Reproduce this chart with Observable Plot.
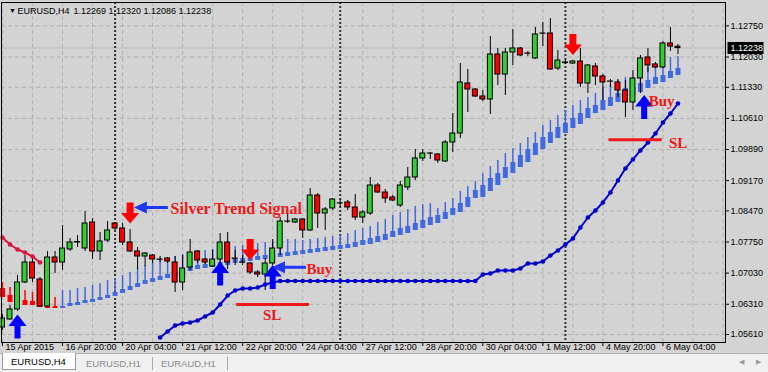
<!DOCTYPE html>
<html><head><meta charset="utf-8">
<script src="https://cdn.jsdelivr.net/npm/d3@7"></script>
<script src="https://cdn.jsdelivr.net/npm/@observablehq/plot@0.6"></script>
<style>
body{margin:0;background:#f0f0f0;width:768px;height:372px;overflow:hidden;font-family:"Liberation Sans",Arial,sans-serif}
#chart svg{display:block}
#tabs{position:relative;height:19px;background:#f0f0f0;border-top:1px solid #b4b4b4;font-size:9.5px}
#tabs .active{position:absolute;left:2px;top:-1px;width:72px;height:16px;background:#fff;border:1px solid #9a9a9a;border-top:none;color:#000}
#tabs .active span{position:absolute;left:8px;top:3px}
#tabs .t{position:absolute;top:4px;color:#8a8a8a}
#tabs .sep{position:absolute;top:3px;width:1px;height:13px;background:#a8a8a8}
#tabs .arr{position:absolute;top:4px;color:#9a9a9a;font-size:7px}
</style></head>
<body>
<div id="chart"></div>
<div id="tabs">
  <div class="active"><span>EURUSD,H4</span></div>
  <span class="t" style="left:86px">EURUSD,H1</span>
  <span class="sep" style="left:152px"></span>
  <span class="t" style="left:161px">EURAUD,H1</span>
  <span class="sep" style="left:227px"></span>
  <span class="arr" style="left:739px">◀</span>
  <span class="arr" style="left:756px">▶</span>
</div>
<script>
// ---- data (EURUSD H4, one value per bar, bar 0 = 15 Apr 2015 12:00) ----
const symbolName = "EURUSD,H4";
const barOpen = [1.05772,1.05957,1.06189,1.06813,1.07276,1.06883,1.06258,1.07392,1.07276,1.07577,
1.07739,1.076,1.08202,1.07531,1.07785,1.08179,1.08063,1.07739,1.07531,1.07415,
1.07438,1.07345,1.07369,1.07276,1.06813,1.0716,1.07531,1.07345,1.07184,1.07345,
1.07739,1.07369,1.07276,1.07253,1.07045,1.06998,1.07253,1.076,1.08225,1.08202,
1.08271,1.08017,1.08826,1.0841,1.08526,1.08641,1.08665,1.08549,1.08317,1.0841,
1.09058,1.08896,1.0878,1.08595,1.09011,1.09243,1.09683,1.09798,1.09775,1.09613,
1.10053,1.10261,1.11418,1.11279,1.11117,1.11048,1.12089,1.11626,1.12135,1.12228,
1.12112,1.11997,1.12575,1.12575,1.11765,1.11904,1.11881,1.11927,1.11418,1.11812,
1.1158,1.11464,1.11441,1.11256,1.10978,1.11534,1.1202,1.11858,1.11788,1.12344,1.12269];
const barHigh = [1.06073,1.06281,1.06975,1.07438,1.07369,1.06929,1.07531,1.07531,1.08132,1.07831,
1.07901,1.08456,1.08294,1.0797,1.08225,1.08202,1.08179,1.0804,1.07623,1.07507,
1.07461,1.07415,1.07392,1.07415,1.07438,1.07808,1.07554,1.07369,1.07554,1.07947,
1.0797,1.07554,1.07438,1.07276,1.07091,1.07369,1.07808,1.08317,1.0841,1.08294,
1.08294,1.08988,1.08873,1.08549,1.08757,1.08734,1.08711,1.0885,1.08479,1.09243,
1.09104,1.08965,1.08826,1.0915,1.09474,1.09891,1.09891,1.09821,1.09798,1.101,
1.10724,1.11881,1.11742,1.11302,1.11256,1.12506,1.12228,1.12228,1.12668,1.12251,
1.12159,1.12714,1.1283,1.12922,1.12182,1.1195,1.1195,1.12228,1.11858,1.11881,
1.11626,1.11511,1.11511,1.11488,1.11719,1.12066,1.12228,1.11904,1.1239,1.12714,1.1232];
const barLow = [1.05703,1.05934,1.06142,1.0679,1.06813,1.06235,1.06235,1.07022,1.07091,1.07531,
1.07623,1.07531,1.07345,1.07322,1.07739,1.08017,1.07669,1.07507,1.07114,1.07184,
1.07253,1.07276,1.07253,1.06582,1.06628,1.07091,1.07253,1.0723,1.0716,1.07253,
1.07114,1.07207,1.07207,1.06998,1.06929,1.06628,1.07207,1.07438,1.08179,1.08179,
1.07831,1.07993,1.08063,1.08017,1.08479,1.08549,1.08479,1.08248,1.08179,1.08364,
1.08873,1.08641,1.08688,1.08549,1.08942,1.09174,1.09613,1.0966,1.0957,1.0959,
1.09821,1.10145,1.10747,1.11094,1.11001,1.10701,1.11372,1.1114,1.11835,1.12043,
1.12043,1.11974,1.12274,1.11719,1.11719,1.11858,1.11858,1.11326,1.11187,1.11372,
1.11025,1.11326,1.11094,1.10631,1.10793,1.11187,1.11673,1.11765,1.11765,1.12159,1.12086];
const barClose = [1.0598,1.06189,1.06813,1.07276,1.06906,1.06258,1.07392,1.07276,1.076,1.07739,
1.0775,1.08179,1.07531,1.07762,1.08017,1.08063,1.07739,1.07531,1.07415,1.07484,
1.07345,1.0734,1.07299,1.06813,1.07137,1.07507,1.07322,1.07276,1.07345,1.07739,
1.07276,1.07362,1.0727,1.07045,1.06998,1.07253,1.076,1.08225,1.0822,1.08271,
1.08017,1.08826,1.0841,1.08503,1.08734,1.08645,1.08549,1.08317,1.08433,1.09058,
1.08896,1.08757,1.08711,1.09058,1.09243,1.09683,1.09798,1.09795,1.09636,1.10053,
1.10261,1.11441,1.11279,1.11117,1.11048,1.12089,1.11626,1.12135,1.12228,1.12066,
1.12108,1.12552,1.1257,1.11742,1.1195,1.1189,1.11927,1.11418,1.11835,1.1158,
1.11441,1.1146,1.11256,1.10978,1.11534,1.11997,1.11835,1.11788,1.12344,1.12274,1.12238];

// Silver Trend histogram: sell phase (red) bars 0-7, buy phase (blue) bars 8-90
const redHistFirstBar = 0;
const redHistWick = [1.06813,1.06698,1.06651,1.06628,1.06582,1.06536,1.06489,1.06466];
const redHistTop = [1.06674,1.06512,1.06443,1.06397,1.06374,1.06327,1.06281,1.06258];
const redHistBottom = [1.06466,1.0635,1.06304,1.06281,1.06281,1.06235,1.06212,1.06212];
const blueHistFirstBar = 8;
const blueHistWick = [1.06628,1.06628,1.06674,1.06698,1.06744,1.0679,1.0686,1.06906,1.06975,1.07045,
1.07137,1.07207,1.07276,1.07322,1.07369,1.07415,1.07461,1.07507,1.07531,1.07554,
1.07577,1.076,1.07623,1.07646,1.07669,1.07693,1.07716,1.07739,1.07762,1.07785,
1.07808,1.07808,1.07785,1.07808,1.07831,1.07855,1.07878,1.07901,1.07947,1.08017,
1.08063,1.08109,1.08202,1.08271,1.08364,1.08433,1.08503,1.08572,1.08618,1.08641,
1.08526,1.08665,1.08757,1.08919,1.09035,1.0915,1.09336,1.09498,1.09636,1.09798,
1.09914,1.1003,1.10169,1.10284,1.10446,1.10562,1.10678,1.10793,1.10909,1.11025,
1.11094,1.11187,1.11326,1.11372,1.11488,1.11557,1.11557,1.11603,1.11788,1.11812,
1.1195,1.1202,1.12043];
const blueHistTop = [1.06258,1.06327,1.0635,1.06397,1.0642,1.06466,1.06512,1.06582,1.06651,1.06721,
1.0679,1.0686,1.06906,1.06952,1.06998,1.07045,1.07091,1.07184,1.07207,1.0723,
1.07253,1.07276,1.07299,1.07345,1.07369,1.07392,1.07415,1.07438,1.07461,1.07484,
1.07507,1.07531,1.07554,1.07577,1.076,1.07623,1.07646,1.07669,1.07693,1.07739,
1.07785,1.07831,1.07878,1.07924,1.07993,1.08063,1.08109,1.08179,1.08248,1.08317,
1.08364,1.08433,1.08526,1.08641,1.0878,1.08942,1.09058,1.0922,1.09336,1.09474,
1.0959,1.09752,1.09891,1.1003,1.10169,1.10284,1.104,1.10493,1.10608,1.10724,
1.1084,1.10909,1.11025,1.11094,1.11187,1.11302,1.11326,1.11418,1.11488,1.11557,
1.11603,1.11696,1.11765];
const blueHistBottom = [1.06212,1.06258,1.06281,1.06327,1.0635,1.06397,1.06443,1.06489,1.06559,1.06628,
1.06698,1.06767,1.06813,1.0686,1.06906,1.06952,1.06998,1.07068,1.07114,1.07137,
1.0716,1.07184,1.07207,1.07253,1.07276,1.07299,1.07322,1.07345,1.07369,1.07392,
1.07415,1.07438,1.07461,1.07484,1.07507,1.07531,1.07554,1.07577,1.076,1.07623,
1.07669,1.07693,1.07739,1.07785,1.07855,1.07901,1.07947,1.08017,1.08063,1.08132,
1.08179,1.08271,1.08364,1.08433,1.08549,1.08757,1.0878,1.08919,1.09058,1.0922,
1.09336,1.09474,1.0959,1.09752,1.09891,1.1003,1.10145,1.10261,1.10377,1.10469,
1.10608,1.10724,1.10793,1.10886,1.10978,1.11094,1.1114,1.1121,1.11302,1.11395,
1.11441,1.11534,1.11603];

// trailing stop lines
const sellStopFirstBar = 0;
const sellStop = [1.07855,1.07693,1.07577,1.07507,1.07415,1.07276];
const buyStopFirstBar = 21;
const buyStop = [1.05541,1.05679,1.05818,1.05865,1.05888,1.05934,1.06027,1.06119,1.06304,1.06512,
1.06628,1.06674,1.06674,1.06698,1.06767,1.06813,
1.06848,1.06848,1.06848,1.06848,1.06848,1.06848,1.06848,1.06848,1.06848,1.06848,
1.06848,1.06848,1.06848,1.06848,1.06848,1.06848,1.06848,1.06848,1.06848,1.06848,
1.06848,1.06848,1.06848,1.06848,1.06848,1.06848,1.06848,
1.06998,1.07022,1.07091,1.07091,1.07091,1.07137,1.07253,1.07253,1.07299,1.07438,
1.07554,1.07693,1.07831,1.08086,1.08317,1.08479,1.08665,1.08896,1.09174,1.09451,
1.0966,1.09868,1.10053,1.10261,1.10516,1.10724,1.10955];

// signal arrows
const buyArrowBars = [2, 29, 36, 85.5];
const buyArrowPrices = [1.05795, 1.07022, 1.0694, 1.10874];
const sellArrowBars = [17, 33, 76];
const sellArrowPrices = [1.08422, 1.07577, 1.12321];

// annotations
const noteTexts = ["Silver Trend Signal", "Buy", "SL", "Buy", "SL"];
const noteBars = [22.4, 40.5, 34.7, 86.1, 88.8];
const notePrices = [1.08526, 1.07126, 1.0605, 1.11001, 1.1003];
const noteSizes = [16, 15, 15, 15, 15];
const pointerBars = [17.5, 35.9];
const pointerPrices = [1.08549, 1.07168];
const slFromBars = [31.2, 80.8];
const slToBars = [40.9, 87.9];
const slPrices = [1.06304, 1.10115];

// axes
const priceTicks = [1.0561,1.0631,1.0703,1.0775,1.0847,1.0917,1.0989,1.1061,1.1133,1.1203,1.1275];
const timeLabelBars = [0,8,16,24,32,40,48,56,64,72,80,88];
const timeLabels = ["15 Apr 2015","16 Apr 20:00","20 Apr 04:00","21 Apr 12:00","22 Apr 20:00","24 Apr 04:00",
  "27 Apr 12:00","28 Apr 20:00","30 Apr 04:00","1 May 12:00","4 May 20:00","6 May 04:00"];
const weekSeparatorBars = [15, 45, 75];
const gridBars = [0,4,8,12,16,20,24,28,32,36,40,44,48,52,56,60,64,68,72,76,80,84,88,92,96];
const xDomain = [-0.133, 96.333];
const yDomain = [1.05425, 1.13292];

// ---- build ----
const fmt = d3.format(".5f");
const candles = barOpen.map((o, i) => ({i, o, h: barHigh[i], l: barLow[i], c: barClose[i]}));
const redHist = redHistTop.map((t, k) => ({i: redHistFirstBar + k, w: redHistWick[k], t, b: redHistBottom[k]}));
const blueHist = blueHistTop.map((t, k) => ({i: blueHistFirstBar + k, w: blueHistWick[k], t, b: blueHistBottom[k]}));
const sellStopPts = sellStop.map((v, k) => ({i: sellStopFirstBar + k, v}));
const buyStopPts = buyStop.map((v, k) => ({i: buyStopFirstBar + k, v}));
const buyArrows = buyArrowBars.map((b, k) => ({b, p: buyArrowPrices[k]}));
const sellArrows = sellArrowBars.map((b, k) => ({b, p: sellArrowPrices[k]}));
const notes = noteTexts.map((t, k) => ({t, b: noteBars[k], p: notePrices[k], s: noteSizes[k]}));
const pointers = pointerBars.map((b, k) => ({b, p: pointerPrices[k]}));
const slLines = slPrices.map((p, k) => ({x1: slFromBars[k], x2: slToBars[k], p}));
const last = barClose.length - 1;
const lastClose = barClose[last];

const upArrow = {draw(c) {
  c.moveTo(0,-12); c.lineTo(9,-0.5); c.lineTo(3,-0.5); c.lineTo(3,12);
  c.lineTo(-3,12); c.lineTo(-3,-0.5); c.lineTo(-9,-0.5); c.closePath(); }};
const downArrow = {draw(c) {
  c.moveTo(-3.5,-10.5); c.lineTo(3.5,-10.5); c.lineTo(3.5,0); c.lineTo(9,0);
  c.lineTo(0,10.5); c.lineTo(-9,0); c.lineTo(-3.5,0); c.closePath(); }};
const leftPointer = {draw(c) {
  c.moveTo(0,0); c.lineTo(13,-6); c.lineTo(13,-1.5); c.lineTo(34,-1.5);
  c.lineTo(34,1.5); c.lineTo(13,1.5); c.lineTo(13,6); c.closePath(); }};
const priceBox = {draw(c) { c.rect(-18,-6,36,12); }};

const bull = "#32cd32", bear = "#ff0000", noteRed = "#f01818";

const chart = Plot.plot({
  width: 768, height: 353,
  marginLeft: 1, marginRight: 43, marginTop: 2, marginBottom: 11,
  style: {background: "#d3d3d3", fontFamily: "Liberation Sans, Arial, sans-serif", fontSize: "9px", color: "#000", overflow: "visible"},
  x: {domain: xDomain, axis: null},
  y: {domain: yDomain, axis: null},
  marks: [
    Plot.ruleY(priceTicks, {stroke: "#b0b0b0", strokeDasharray: "4,3"}),
    Plot.ruleX(gridBars, {stroke: "#b0b0b0", strokeDasharray: "4,3"}),
    Plot.ruleY([lastClose], {stroke: "#c2c2c2", strokeWidth: 1.5}),
    Plot.ruleX(weekSeparatorBars, {stroke: "#333", strokeWidth: 2, strokeDasharray: "2,2"}),
    // histogram
    Plot.ruleX(redHist, {x: "i", y1: "w", y2: "t", stroke: bear, strokeWidth: 1.5}),
    Plot.ruleX(redHist, {x: "i", y1: "t", y2: "b", stroke: bear, strokeWidth: 5}),
    Plot.ruleX(blueHist, {x: "i", y1: "w", y2: "t", stroke: "#4169e1", strokeWidth: 1.5}),
    Plot.ruleX(blueHist, {x: "i", y1: "t", y2: "b", stroke: "#4169e1", strokeWidth: 5}),
    // candles
    Plot.ruleX(candles, {x: "i", y1: "l", y2: "h", stroke: "#000", strokeWidth: 1}),
    Plot.rect(candles, {x1: d => d.i - 0.33, x2: d => d.i + 0.33, y1: "o", y2: "c",
      fill: d => d.c >= d.o ? bull : bear, stroke: "#000", strokeWidth: 1}),
    // trailing stops
    Plot.line(sellStopPts, {x: "i", y: "v", stroke: "#dc143c", strokeWidth: 2}),
    Plot.dot(sellStopPts, {x: "i", y: "v", r: 2.3, fill: "#dc143c"}),
    Plot.line(buyStopPts, {x: "i", y: "v", stroke: "#0000cd", strokeWidth: 2, clip: true}),
    Plot.dot(buyStopPts, {x: "i", y: "v", r: 2.3, fill: "#0000cd", clip: true}),
    // annotations
    Plot.ruleY(slLines, {x1: "x1", x2: "x2", y: "p", stroke: noteRed, strokeWidth: 3}),
    Plot.dot(buyArrows, {x: "b", y: "p", symbol: upArrow, fill: "#0000ff", stroke: "none"}),
    Plot.dot(sellArrows, {x: "b", y: "p", symbol: downArrow, fill: "#ff0000", stroke: "none"}),
    Plot.dot(pointers, {x: "b", y: "p", symbol: leftPointer, fill: "#2036f5", stroke: "none"}),
    Plot.text(notes, {x: "b", y: "p", text: "t", fontSize: d => d.s, textAnchor: "start", lineAnchor: "middle",
      fill: noteRed, fontFamily: "Liberation Serif, Times New Roman, serif", fontWeight: "bold"}),
    // frame & axes
    Plot.frame({stroke: "#000"}),
    Plot.axisY({anchor: "right", ticks: priceTicks, tickFormat: fmt, tickSize: 3, tickPadding: 2, label: null, fontSize: 9}),
    Plot.axisX({anchor: "bottom", ticks: timeLabelBars, tickSize: 4, tickFormat: () => "", label: null}),
    Plot.text(timeLabels, {x: (d, i) => timeLabelBars[i], frameAnchor: "bottom", dy: 5, dx: 3,
      textAnchor: "start", lineAnchor: "middle", fontSize: 9}),
    // price box
    Plot.dot([lastClose], {y: d => d, frameAnchor: "right", dx: 20, symbol: priceBox, fill: "#000", stroke: "none"}),
    Plot.text([lastClose], {y: d => d, text: d => fmt(d), frameAnchor: "right", dx: 5, textAnchor: "start",
      lineAnchor: "middle", fill: "#fff", fontSize: 9}),
    // header
    Plot.text(["▼"], {frameAnchor: "top-left", dx: 7.5, dy: 8.5, fontSize: 7, lineAnchor: "middle"}),
    Plot.text([symbolName], {frameAnchor: "top-left", dx: 16, dy: 8.5, textAnchor: "start", lineAnchor: "middle", fontSize: 9}),
    Plot.text([[barOpen[last], barHigh[last], barLow[last], barClose[last]].map(fmt).join(" ")],
      {frameAnchor: "top-left", dx: 72, dy: 8.5, textAnchor: "start", lineAnchor: "middle", fontSize: 9})
  ]
});
document.getElementById("chart").append(chart);
</script>
</body></html>
